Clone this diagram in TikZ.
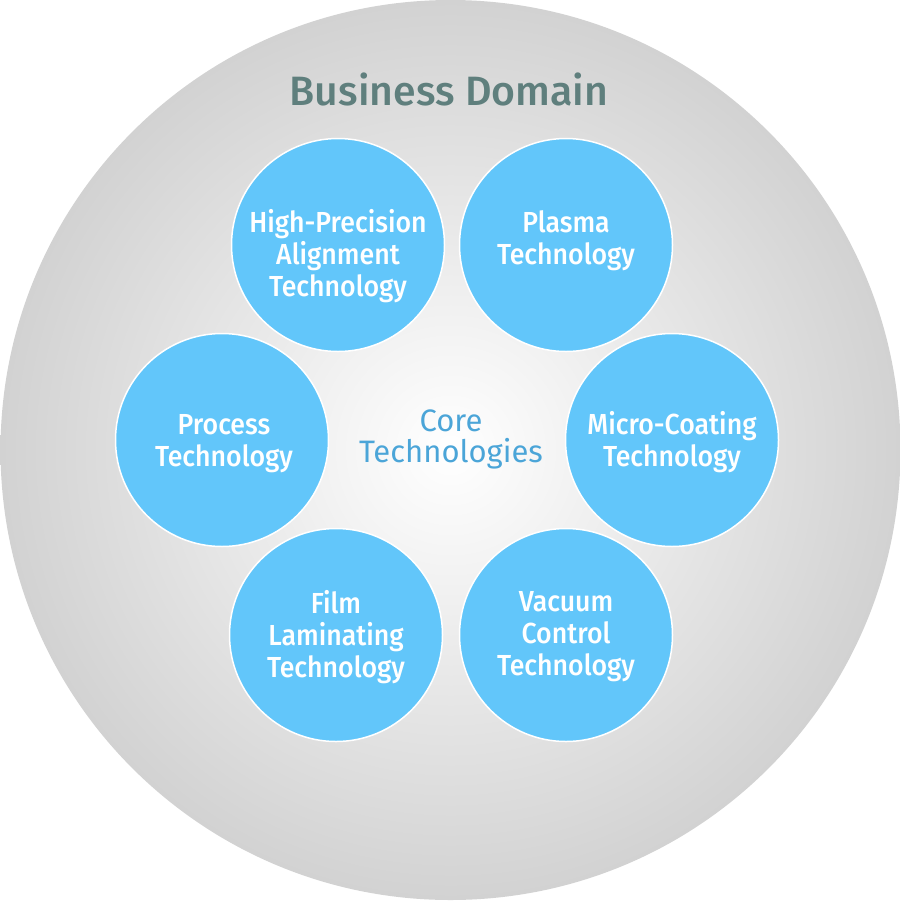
\documentclass[tikz,border=0pt]{standalone}
\usepackage{fontspec}
\setmainfont{Fira Sans}
\newfontfamily\medfont{Fira Sans Medium}[FakeStretch=0.92]
\newfontfamily\domfont{Fira Sans Medium}
\definecolor{techblue}{HTML}{62C6FA}
\definecolor{domaintxt}{HTML}{5F7F7D}
\definecolor{coretxt}{HTML}{4BA5D8}
\definecolor{outergray}{HTML}{D2D2D2}
\tikzset{
  techdisc/.style={circle, fill=techblue, draw=white, line width=1.5pt, minimum size=213pt, inner sep=0pt},
  techtext/.style={text=white, align=center, inner sep=0pt, font=\medfont\fontsize{29}{32}\selectfont}
}
\begin{document}
\begin{tikzpicture}[x=1pt,y=-1pt]
\useasboundingbox (0,0) rectangle (901,900);
\shade[inner color=white, outer color=outergray] (450.5,450) circle (450);
\node[text=domaintxt, font=\domfont\fontsize{41}{44}\selectfont] (domain) at (449,89) {Business Domain};
\node[text=coretxt, align=center, font=\fontsize{31}{31}\selectfont] (core) at (451,439) {Core\\Technologies};
\node[techdisc] (hp) at (338,245) {};
\node[techdisc] (plasma) at (566,245) {};
\node[techdisc] (process) at (222,440) {};
\node[techdisc] (micro) at (672,440) {};
\node[techdisc] (film) at (336,635) {};
\node[techdisc] (vacuum) at (566,635) {};
\node[techtext] (hpt) at (338,256) {High-Precision\\Alignment\\Technology};
\node[techtext] (plasmat) at (566,241) {Plasma\\Technology};
\node[techtext] (processt) at (224,444) {Process\\Technology};
\node[techtext] (microt) at (672,442) {Micro-Coating\\Technology};
\node[techtext] (filmt) at (336,637) {Film\\Laminating\\Technology};
\node[techtext] (vacuumt) at (566,637) {Vacuum\\Control\\Technology};
\end{tikzpicture}
\end{document}
